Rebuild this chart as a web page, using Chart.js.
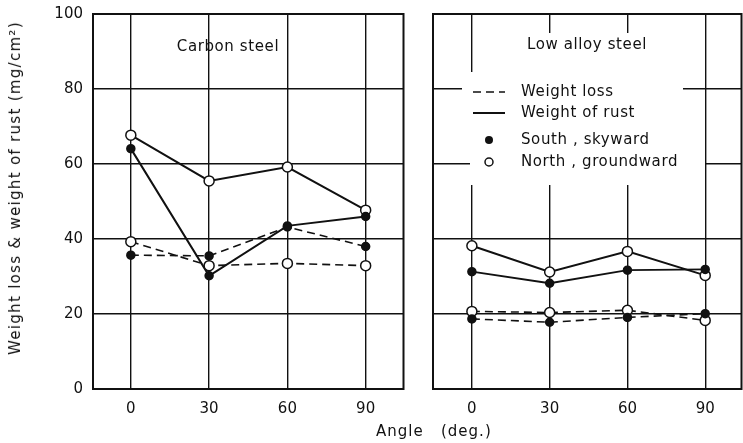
<!DOCTYPE html>
<html>
<head>
<meta charset="utf-8">
<script src="https://cdn.jsdelivr.net/npm/chart.js@4.4.1/dist/chart.umd.min.js"></script>
<style>
  body { margin: 0; background: #fff; width: 743px; height: 443px; overflow: hidden; position: relative;
         font-family: "DejaVu Sans", sans-serif; color: #111; }
  .panel { position: absolute; top: 0; height: 443px; }
  #left { left: 0; width: 410px; }
  #right { left: 420px; width: 328px; }
  #ytitle { position: absolute; left: 15px; top: 188px; transform: translate(-50%, -50%) rotate(-90deg);
            white-space: nowrap; font-size: 15px; letter-spacing: 1.3px; }
  #xtitle { position: absolute; left: 376px; top: 422px; font-size: 15px; letter-spacing: 1px; white-space: pre; }
</style>
</head>
<body>
<div class="panel" id="left"><canvas id="carbon" width="410" height="443"></canvas></div>
<div class="panel" id="right"><canvas id="alloy" width="328" height="443"></canvas></div>
<div id="ytitle">Weight loss &amp; weight of rust (mg/cm²)</div>
<div id="xtitle">Angle   (deg.)</div>

<script>
const ink = '#111';

const angles = [0, 30, 60, 90];
const yTicks = [0, 20, 40, 60, 80, 100];
const legendLabels = ['Weight loss', 'Weight of rust', 'South , skyward', 'North , groundward'];

// carbon steel (mg/cm2)
const carbonLossSouth = [35.7, 35.5, 43.2, 38.0];
const carbonLossNorth = [39.3, 32.9, 33.5, 32.9];
const carbonRustSouth = [64.1, 30.2, 43.5, 46.0];
const carbonRustNorth = [67.7, 55.5, 59.2, 47.7];

// low alloy steel (mg/cm2)
const alloyLossSouth = [18.7, 17.8, 19.1, 20.1];
const alloyLossNorth = [20.7, 20.4, 21.0, 18.3];
const alloyRustSouth = [31.3, 28.2, 31.7, 31.9];
const alloyRustNorth = [38.2, 31.2, 36.7, 30.3];

const font = { family: '"DejaVu Sans", sans-serif', size: 15 };

function series(label, values, dashed, filled) {
  return {
    label: label,
    data: values.map((v, i) => ({ x: angles[i], y: v })),
    borderColor: ink,
    borderWidth: dashed ? 1.6 : 2,
    borderDash: dashed ? [8, 5] : [],
    pointRadius: filled ? 4 : 5,
    pointBackgroundColor: filled ? ink : '#fff',
    pointBorderColor: ink,
    pointBorderWidth: 1.5,
    tension: 0,
    fill: false
  };
}

// frame, white cut-outs behind the text, panel title and legend
const panelDecor = {
  id: 'panelDecor',
  beforeDatasetsDraw(chart, args, opts) {
    const ctx = chart.ctx, a = chart.chartArea;
    ctx.save();
    ctx.fillStyle = '#fff';
    (opts.masks || []).forEach(m => ctx.fillRect(a.left + m[0], a.top + m[1], m[2], m[3]));
    ctx.strokeStyle = ink;
    ctx.lineWidth = 2;
    ctx.strokeRect(a.left, a.top, a.right - a.left, a.bottom - a.top);
    ctx.restore();
  },
  afterDatasetsDraw(chart, args, opts) {
    const ctx = chart.ctx, a = chart.chartArea;
    ctx.save();
    ctx.fillStyle = ink;
    ctx.strokeStyle = ink;
    ctx.font = '15px "DejaVu Sans", sans-serif';
    ctx.letterSpacing = '0.6px';
    ctx.textBaseline = 'middle';
    ctx.textAlign = 'center';
    ctx.fillText(opts.title, a.left + opts.titleX, a.top + opts.titleY);
    if (opts.legend) {
      const rows = [78, 99, 126, 148];
      const x0 = a.left + 40, x1 = a.left + 72, xt = a.left + 88;
      ctx.textAlign = 'left';
      legendLabels.forEach((txt, i) => {
        const y = a.top + rows[i];
        ctx.fillText(txt, xt, y);
        ctx.beginPath();
        if (i < 2) {
          ctx.lineWidth = i === 0 ? 1.6 : 2;
          ctx.setLineDash(i === 0 ? [8, 5] : []);
          ctx.moveTo(x0, y);
          ctx.lineTo(x1, y);
          ctx.stroke();
        } else {
          ctx.setLineDash([]);
          ctx.lineWidth = 1.5;
          ctx.arc((x0 + x1) / 2, y, 4, 0, Math.PI * 2);
          if (i === 2) ctx.fill(); else ctx.stroke();
        }
      });
    }
    ctx.restore();
  }
};

function makeChart(id, datasets, opt) {
  return new Chart(document.getElementById(id), {
    type: 'line',
    data: { datasets: datasets },
    options: {
      responsive: false,
      animation: false,
      devicePixelRatio: 1,
      layout: { padding: opt.padding },
      plugins: {
        legend: { display: false },
        tooltip: { enabled: false },
        panelDecor: opt.decor
      },
      scales: {
        x: {
          type: 'linear',
          min: opt.xMin,
          max: opt.xMax,
          afterBuildTicks: s => { s.ticks = angles.map(v => ({ value: v })); },
          afterFit: s => { s.height = 54; s.paddingLeft = 0; s.paddingRight = 0; },
          grid: { color: ink, lineWidth: 1.4, drawTicks: false },
          border: { display: false },
          ticks: { padding: 11, font: font, color: ink }
        },
        y: {
          min: 0,
          max: 100,
          afterBuildTicks: s => { s.ticks = yTicks.map(v => ({ value: v })); },
          afterFit: s => { s.width = opt.yWidth; s.paddingTop = 0; s.paddingBottom = 0; },
          grid: { color: ink, lineWidth: 1.4, drawTicks: false },
          border: { display: false },
          ticks: { display: opt.yWidth > 0, padding: 10, font: font, color: ink }
        }
      }
    },
    plugins: [panelDecor]
  });
}

makeChart('carbon', [
  series('Weight loss, south', carbonLossSouth, true, true),
  series('Weight loss, north', carbonLossNorth, true, false),
  series('Weight of rust, south', carbonRustSouth, false, true),
  series('Weight of rust, north', carbonRustNorth, false, false)
], {
  padding: { top: 14, right: 6, left: 0, bottom: 0 },
  xMin: -14.5, xMax: 104.5, yWidth: 93,
  decor: { title: 'Carbon steel', titleX: 135, titleY: 33 }
});

makeChart('alloy', [
  series('Weight loss, south', alloyLossSouth, true, true),
  series('Weight loss, north', alloyLossNorth, true, false),
  series('Weight of rust, south', alloyRustSouth, false, true),
  series('Weight of rust, north', alloyRustNorth, false, false)
], {
  padding: { top: 14, right: 1, left: 13, bottom: 0 },
  xMin: -15, xMax: 104, yWidth: 0,
  decor: {
    title: 'Low alloy steel', titleX: 154, titleY: 31, legend: true,
    masks: [[57, 19, 190, 152], [29, 58, 221, 68], [37, 126, 235, 45]]
  }
});
</script>
</body>
</html>
